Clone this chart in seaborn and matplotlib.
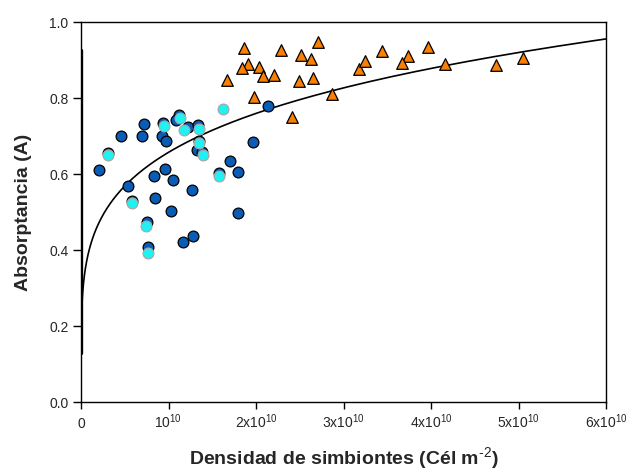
import numpy as np
import pandas as pd
import matplotlib
matplotlib.use("Agg")
import matplotlib.pyplot as plt
import seaborn as sns

# Symbiont density in units of 1e10 cells per m^2, absorptance A
dark_x = [0.723, 0.454, 0.700, 0.940, 0.931, 0.968, 1.123, 1.086, 1.219, 1.340,
          1.345, 1.322, 1.383, 2.133, 1.966, 0.309, 0.209, 0.540, 0.834, 0.957,
          1.055, 1.265, 1.703, 1.794, 1.581, 0.582, 0.846, 1.025, 1.798, 0.751,
          1.283, 1.169, 0.769]
dark_y = [0.731, 0.700, 0.701, 0.733, 0.700, 0.688, 0.755, 0.742, 0.724, 0.729,
          0.688, 0.662, 0.657, 0.778, 0.685, 0.656, 0.610, 0.568, 0.595, 0.612,
          0.584, 0.558, 0.634, 0.606, 0.603, 0.529, 0.536, 0.503, 0.497, 0.475,
          0.437, 0.420, 0.407]

cyan_x = [0.312, 0.949, 1.128, 1.180, 1.346, 1.349, 1.398, 1.619, 1.581, 0.586,
          0.746, 0.769]
cyan_y = [0.650, 0.726, 0.748, 0.717, 0.718, 0.682, 0.650, 0.770, 0.595, 0.523,
          0.463, 0.391]

tri_x = [1.866, 2.286, 2.712, 2.514, 2.629, 1.905, 1.840, 2.034, 2.077, 2.209,
         1.665, 2.488, 2.648, 2.865, 1.973, 2.415, 3.181, 3.249, 3.445, 3.738,
         3.665, 3.967, 4.161, 4.738, 5.051]
tri_y = [0.931, 0.926, 0.948, 0.912, 0.903, 0.889, 0.880, 0.882, 0.859, 0.861,
         0.847, 0.845, 0.852, 0.810, 0.803, 0.749, 0.876, 0.897, 0.925, 0.911,
         0.892, 0.934, 0.890, 0.888, 0.904]

# Power-law fit A = c * D^k (D in 1e10 cells m^-2)
fit_c = 0.657
fit_k = 0.209

x_ticks = [0, 1, 2, 3, 4, 5, 6]
x_tick_labels = ["0", r"$10^{10}$", r"$2\mathrm{x}10^{10}$", r"$3\mathrm{x}10^{10}$",
                 r"$4\mathrm{x}10^{10}$", r"$5\mathrm{x}10^{10}$", r"$6\mathrm{x}10^{10}$"]
y_ticks = [0.0, 0.2, 0.4, 0.6, 0.8, 1.0]

sns.set_style("ticks")
plt.rcParams["font.family"] = ["Liberation Sans", "DejaVu Sans"]
plt.rcParams["mathtext.fontset"] = "custom"
plt.rcParams["mathtext.rm"] = "Liberation Sans"
plt.rcParams["mathtext.it"] = "Liberation Sans:italic"
plt.rcParams["mathtext.bf"] = "Liberation Sans:bold"

fig = plt.figure(figsize=(6.3, 4.75), dpi=100)
ax = fig.add_axes([81 / 630, 1 - 402 / 475, (606 - 81) / 630, (402 - 22) / 475])

fit_x = np.logspace(np.log10(4.3e-4), np.log10(6.0), 400)
fit_df = pd.DataFrame({"x": fit_x, "y": fit_c * fit_x ** fit_k})
sns.lineplot(data=fit_df, x="x", y="y", ax=ax, color="black", lw=1.2,
             estimator=None, sort=False, zorder=2)
ax.axvline(0, ymin=0.13, ymax=0.926, color="black", lw=2.4, zorder=2)

dark_df = pd.DataFrame({"x": dark_x, "y": dark_y})
cyan_df = pd.DataFrame({"x": cyan_x, "y": cyan_y})
tri_df = pd.DataFrame({"x": tri_x, "y": tri_y})

sns.scatterplot(data=tri_df, x="x", y="y", ax=ax, marker="^", s=70,
                color="#fa8005", edgecolor="black", linewidth=0.9, zorder=3)
sns.scatterplot(data=dark_df, x="x", y="y", ax=ax, marker="o", s=60,
                color="#0b5cb5", edgecolor="black", linewidth=0.9, zorder=3)
sns.scatterplot(data=cyan_df, x="x", y="y", ax=ax, marker="o", s=60,
                color="#1ff2f2", edgecolor="#a8a8a8", linewidth=0.9, zorder=4)

ax.set_xlim(0, 6)
ax.set_ylim(0, 1.0)
ax.set_xticks(x_ticks)
ax.set_xticklabels(x_tick_labels)
ax.set_yticks(y_ticks)
ax.set_yticklabels([f"{v:.1f}" for v in y_ticks])
ax.tick_params(axis="both", direction="out", labelsize=10, width=1.0, color="black")
ax.tick_params(axis="x", length=5, pad=14)
ax.tick_params(axis="y", length=6, pad=3)
for lbl in ax.get_xticklabels():
    lbl.set_verticalalignment("baseline")

for side in ["left", "bottom", "right", "top"]:
    ax.spines[side].set_visible(True)
    ax.spines[side].set_color("black")
    ax.spines[side].set_linewidth(1.0)

ax.set_xlabel(r"Densidad de simbiontes (Cél m$^{\text{-2}}$)", fontsize=14,
              fontweight="bold", labelpad=10)
ax.set_ylabel("Absorptancia (A)", fontsize=14, fontweight="bold", labelpad=12)

fig.savefig("out.png", dpi=100)
